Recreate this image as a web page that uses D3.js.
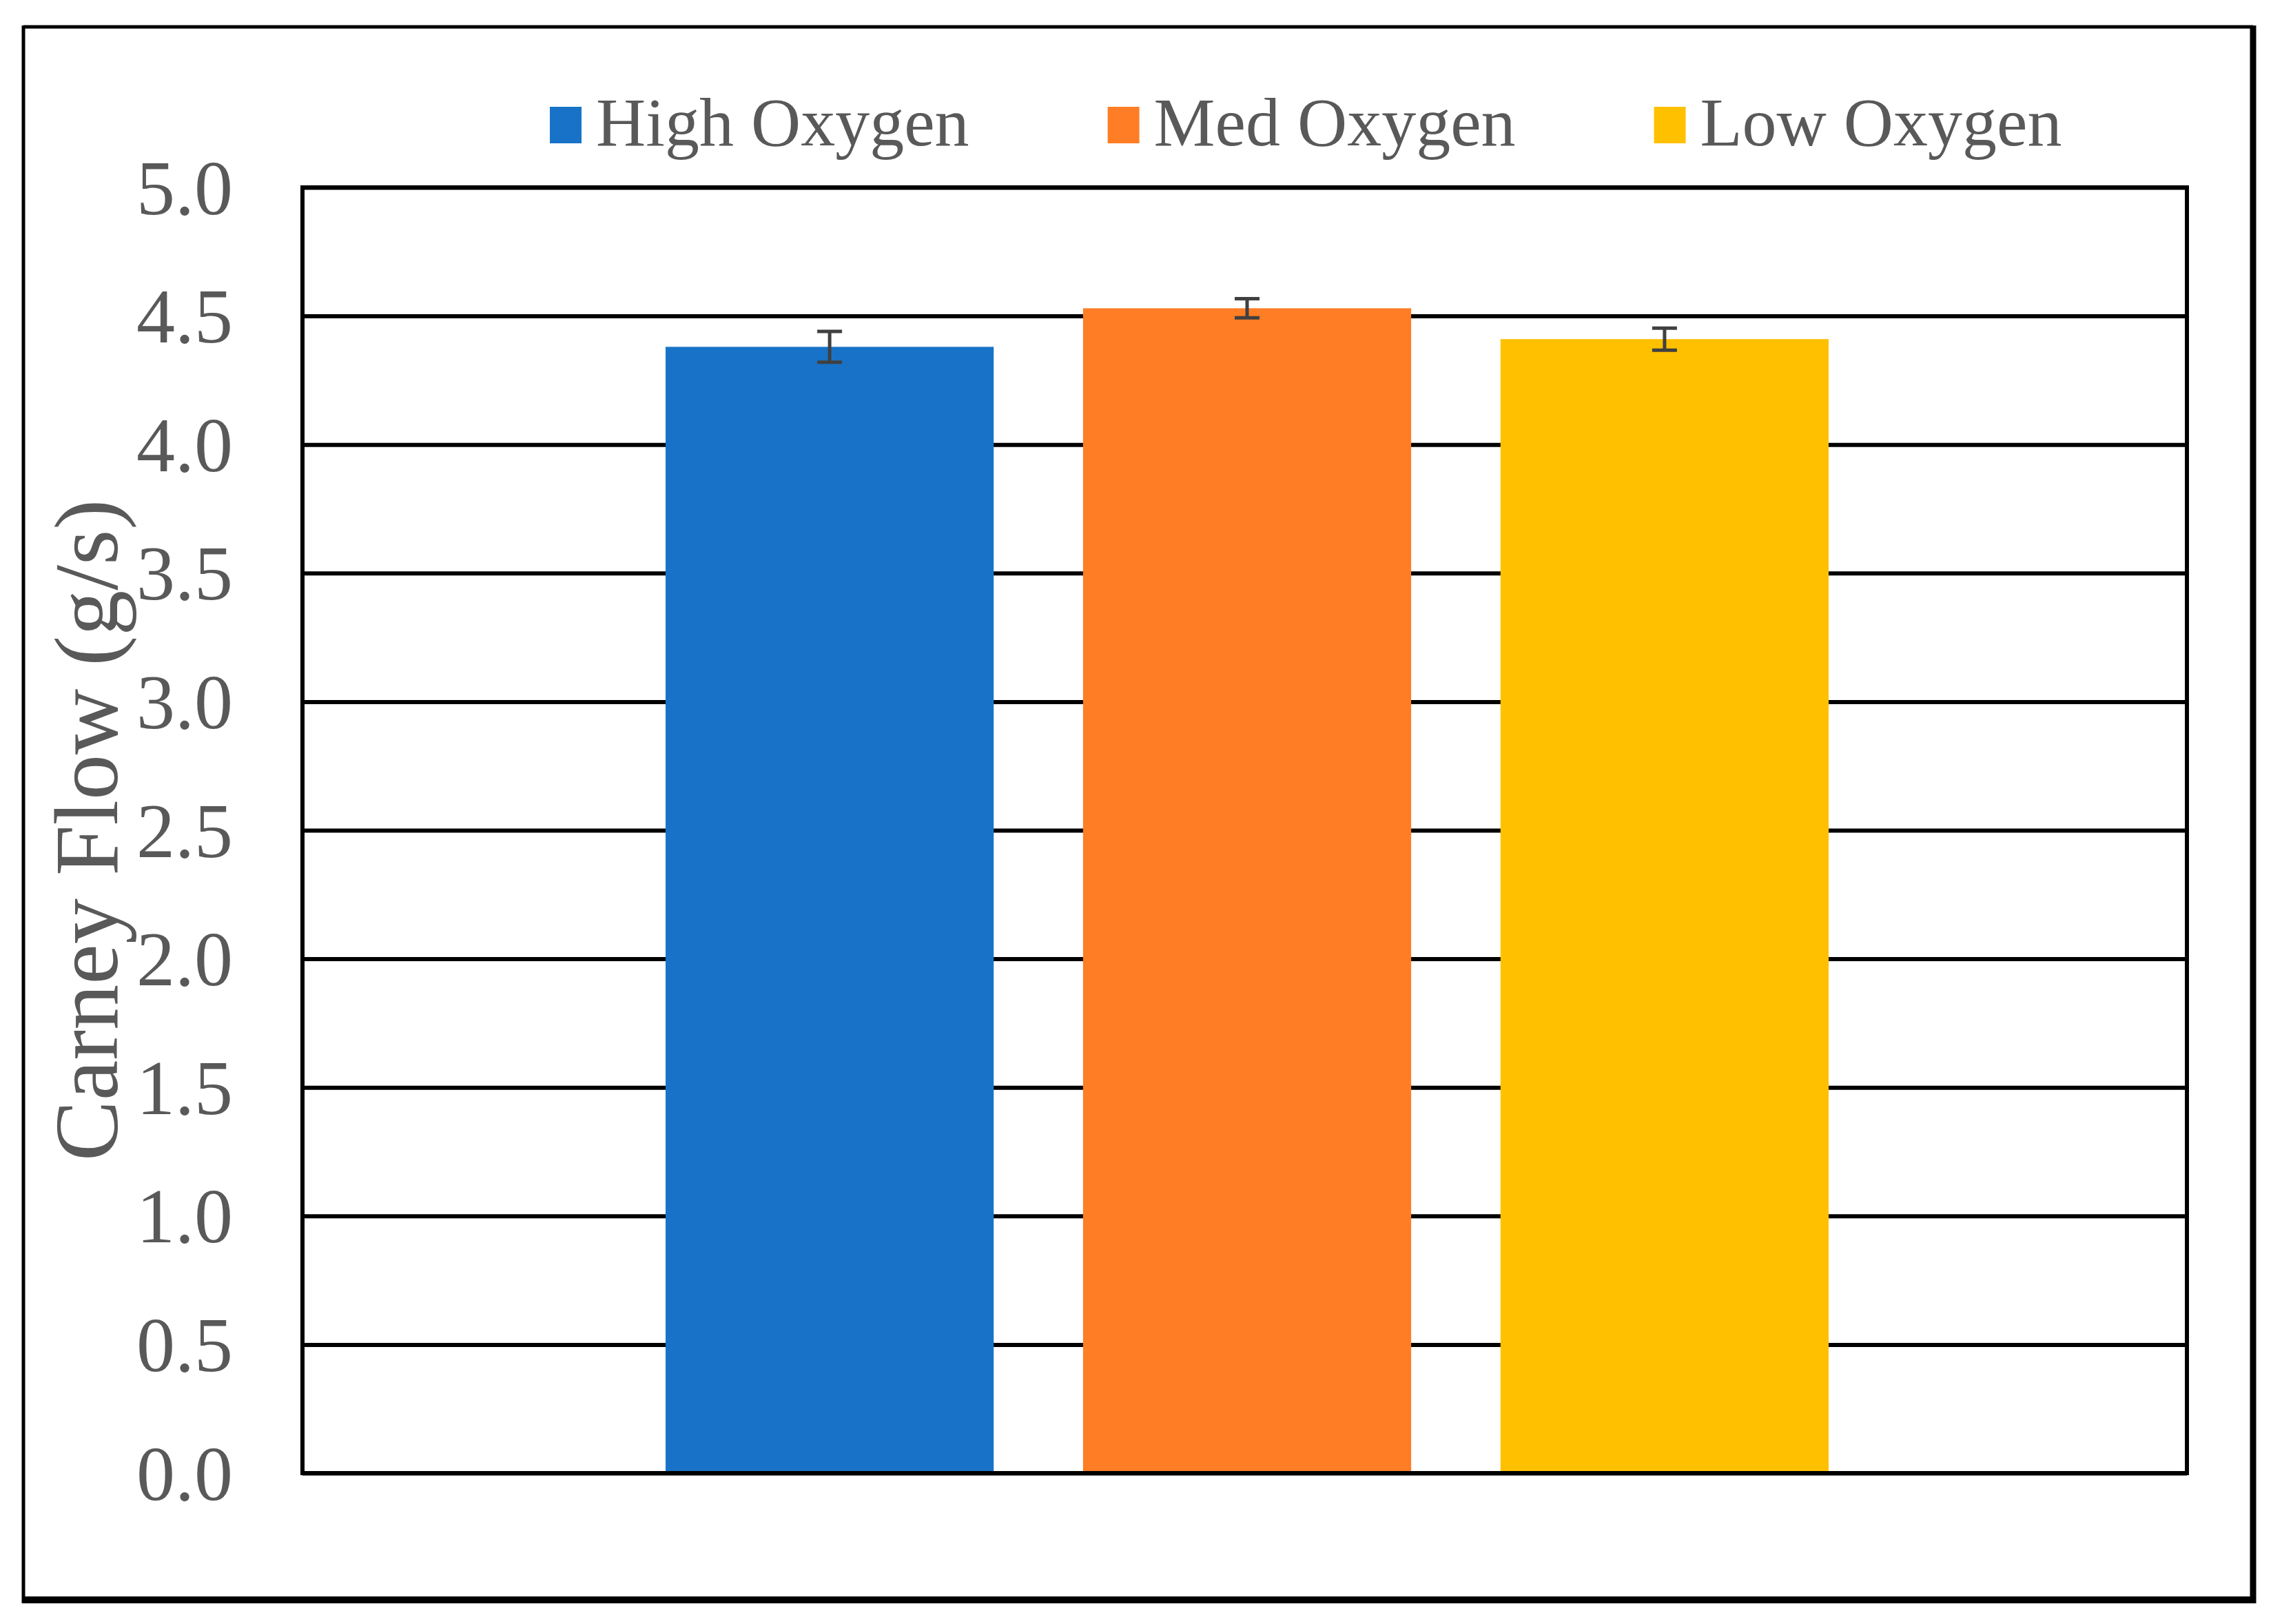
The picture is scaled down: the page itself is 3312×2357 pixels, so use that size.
<!DOCTYPE html>
<html>
<head>
<meta charset="utf-8">
<script src="https://cdn.jsdelivr.net/npm/d3@7"></script>
<style>
  html, body { margin: 0; padding: 0; background: #fff; }
  svg { display: block; }
  text { font-family: "Liberation Serif", "Times New Roman", serif; fill: #595959; }
</style>
</head>
<body>
<script>
// ---- data ----
const series = ["High Oxygen", "Med Oxygen", "Low Oxygen"];
const values = [4.38, 4.53, 4.41];
const errors = [0.06, 0.037, 0.043];
const colors = ["#1873C8", "#FE7D25", "#FFC000"];
const yTicks = [0, 0.5, 1, 1.5, 2, 2.5, 3, 3.5, 4, 4.5, 5];
const yTitle = "Carney Flow (g/s)";

// ---- layout ----
const W = 3312, H = 2357;
const plot = { left: 439, right: 3174, top: 272, bottom: 2138 };

const svg = d3.select("body").append("svg").attr("width", W).attr("height", H);
svg.append("rect").attr("width", W).attr("height", H).attr("fill", "#fff");

// outer frame
const outer = { l: 34, t: 39, r: 3270, b: 2322 };
const fr = svg.append("g").attr("stroke", "#000").attr("fill", "none");
fr.append("line").attr("x1", outer.l).attr("x2", outer.r).attr("y1", outer.t).attr("y2", outer.t).attr("stroke-width", 5);
fr.append("line").attr("x1", outer.l).attr("x2", outer.r + 4).attr("y1", outer.b).attr("y2", outer.b).attr("stroke-width", 10);
fr.append("line").attr("x1", outer.l).attr("x2", outer.l).attr("y1", outer.t - 2).attr("y2", outer.b + 5).attr("stroke-width", 5);
fr.append("line").attr("x1", outer.r).attr("x2", outer.r).attr("y1", outer.t - 2).attr("y2", outer.b + 5).attr("stroke-width", 9);

// scales
const y = d3.scaleLinear().domain([0, 5]).range([plot.bottom, plot.top]);
const x = d3.scaleBand().domain(series).range([966, 2654]).paddingInner(0.214).paddingOuter(0);

// gridlines via axis
const grid = svg.append("g")
  .attr("transform", `translate(${plot.left},0)`)
  .call(d3.axisLeft(y).tickValues(yTicks).tickSize(-(plot.right - plot.left)).tickFormat(""));
grid.select(".domain").remove();
grid.selectAll(".tick line").attr("stroke", "#000").attr("stroke-width", 6);

// tick labels
const yl = svg.append("g")
  .attr("transform", `translate(${plot.left},0)`)
  .call(d3.axisLeft(y).tickValues(yTicks).tickSize(0).tickPadding(101).tickFormat(d3.format(".1f")));
yl.select(".domain").remove();
yl.selectAll(".tick text")
  .attr("font-size", 112)
  .attr("font-family", "Liberation Serif, Times New Roman, serif")
  .attr("fill", "#595959")
  .attr("dy", "0.34em");

// bars
svg.append("g").selectAll("rect").data(series).join("rect")
  .attr("x", d => x(d))
  .attr("width", x.bandwidth())
  .attr("y", (d, i) => y(values[i]))
  .attr("height", (d, i) => y(0) - y(values[i]))
  .attr("fill", (d, i) => colors[i]);

// plot frame
svg.append("rect")
  .attr("x", plot.left).attr("y", plot.top)
  .attr("width", plot.right - plot.left).attr("height", plot.bottom - plot.top)
  .attr("fill", "none").attr("stroke", "#000").attr("stroke-width", 6);

// error bars
const eb = svg.append("g").attr("stroke", "#404040").attr("stroke-width", 5);
series.forEach((s, i) => {
  const cx = x(s) + x.bandwidth() / 2;
  const y1 = y(values[i] + errors[i]), y0 = y(values[i] - errors[i]);
  const cw = 18;
  eb.append("line").attr("x1", cx).attr("x2", cx).attr("y1", y1).attr("y2", y0);
  eb.append("line").attr("x1", cx - cw).attr("x2", cx + cw).attr("y1", y1).attr("y2", y1);
  eb.append("line").attr("x1", cx - cw).attr("x2", cx + cw).attr("y1", y0).attr("y2", y0);
});

// y title
svg.append("text")
  .attr("transform", `translate(170,1205) rotate(-90)`)
  .attr("text-anchor", "middle")
  .attr("font-size", 132)
  .text(yTitle);

// legend
const leg = svg.append("g");
let lx = 798;
series.forEach((s, i) => {
  leg.append("rect").attr("x", lx).attr("y", 155).attr("width", 46).attr("height", 53).attr("fill", colors[i]);
  const t = leg.append("text").attr("x", lx + 67).attr("y", 211).attr("font-size", 100).text(s);
  const w = t.node().getComputedTextLength();
  lx = lx + 67 + w + 201;
});
</script>
</body>
</html>
